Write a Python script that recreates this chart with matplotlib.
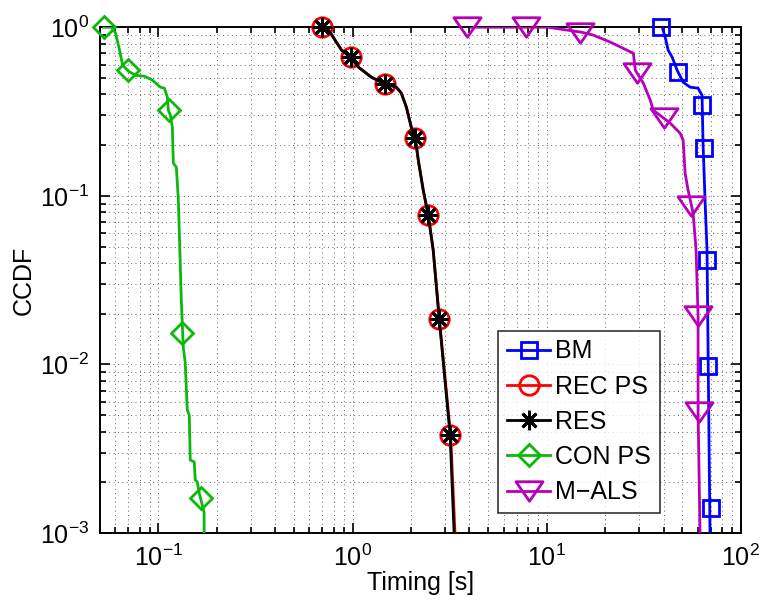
import matplotlib
matplotlib.use("Agg")
import matplotlib.pyplot as plt
from matplotlib.path import Path
from matplotlib.ticker import LogLocator, NullFormatter

plt.rcParams['font.family'] = ['Liberation Sans', 'DejaVu Sans']
plt.rcParams['mathtext.fontset'] = 'custom'
plt.rcParams['mathtext.rm'] = 'Liberation Sans'
plt.rcParams['mathtext.it'] = 'Liberation Sans:italic'

# ---- data ----
bm_x = [39.35, 40.76, 42.23, 44.27, 46.97, 50.42, 54.76, 60.2, 63.1, 63.85, 65.38, 66.93, 69.34]
bm_y = [1.0, 0.872, 0.731, 0.664, 0.556, 0.472, 0.441, 0.435, 0.395, 0.205, 0.0943, 0.0477, 0.001]
bm_mx = [38.9, 47.5, 63.1, 64.6, 66.9, 67.7, 70.2]
bm_my = [1.0, 0.541, 0.345, 0.192, 0.0416, 0.00977, 0.00141]

res_x = [0.694, 0.753, 0.878, 0.977, 1.073, 1.251, 1.476, 1.681, 1.784, 1.892, 2.007, 2.104,
         2.18, 2.312, 2.453, 2.602, 2.794, 3.18, 3.334]
res_y = [1.0, 0.960, 0.731, 0.664, 0.579, 0.505, 0.459, 0.441, 0.406, 0.336, 0.255, 0.220,
         0.163, 0.108, 0.0769, 0.0477, 0.0186, 0.00381, 0.001]
rec_x = [0.694, 0.753, 0.878, 0.977, 1.073, 1.251, 1.476, 1.681, 1.784, 1.892, 2.007, 2.104,
         2.18, 2.312, 2.453, 2.602, 2.80, 3.20, 3.37]
rec_y = res_y
res_mx = [0.694, 0.977, 1.476, 2.104, 2.453, 2.794, 3.18]
res_my = [1.0, 0.664, 0.459, 0.220, 0.0769, 0.0186, 0.00381]

con_x = [0.0522, 0.0574, 0.0602, 0.0631, 0.0654, 0.0702, 0.0762, 0.0848, 0.0932, 0.1024, 0.1074,
         0.1112, 0.1125, 0.1152, 0.118, 0.1194, 0.1237, 0.1267, 0.1312, 0.1343, 0.1375, 0.1408,
         0.1442, 0.1459, 0.153, 0.1548, 0.1585, 0.1623, 0.172, 0.172]
con_y = [1.0, 1.0, 0.921, 0.731, 0.595, 0.548, 0.519, 0.512, 0.485, 0.441, 0.435,
         0.385, 0.322, 0.301, 0.255, 0.156, 0.148, 0.0943, 0.0241, 0.01268, 0.01019, 0.00537,
         0.00501, 0.00271, 0.00264, 0.00206, 0.00201, 0.00173, 0.00132, 0.001]
con_mx = [0.0522, 0.0694, 0.114, 0.133, 0.166]
con_my = [1.0, 0.556, 0.322, 0.0153, 0.00161]

als_x = [4.076, 10.12, 15.12, 17.42, 21.29, 27.94, 28.6, 31.44, 34.15, 35.38, 43.24, 48.67,
         50.42, 51.63, 53.49, 56.74, 58.78, 60.2, 60.2, 61.6]
als_y = [1.0, 1.0, 0.934, 0.897, 0.815, 0.701, 0.556, 0.466, 0.369, 0.322, 0.270, 0.235,
         0.214, 0.136, 0.108, 0.0790, 0.0477, 0.0194, 0.00522, 0.001]
als_mx = [3.89, 7.8, 14.9, 29.3, 40.3, 55.4, 60.2, 60.9]
als_my = [1.0, 1.0, 0.93, 0.534, 0.289, 0.0869, 0.0194, 0.00522]

labels = ['BM', 'REC PS', 'RES', 'CON PS', 'M\u2212ALS']
x_label = 'Timing [s]'
y_label = 'CCDF'

# ---- styles ----
blue = (0, 0, 1)
red = (1, 0, 0)
black = (0, 0, 0)
green = (0.05, 0.72, 0.05)
magenta = (0.72, 0, 0.72)
lw = 2.0
tri = Path([(-1, 0.72), (1, 0.72), (0, -0.72), (-1, 0.72)],
           [Path.MOVETO, Path.LINETO, Path.LINETO, Path.CLOSEPOLY])

fig = plt.figure(figsize=(7.63, 6.05), dpi=100)
ax = fig.add_axes([0.131, 0.119, 0.840, 0.836])
ax.set_xscale('log')
ax.set_yscale('log')

def curve(x, y, mx, my, color, marker, ms, label, z):
    ax.plot(x, y, color=color, lw=lw, zorder=z)
    ax.plot(mx, my, ls='none', marker=marker, ms=ms, mfc='none', mec=color, mew=lw, zorder=z,
            clip_on=False)
    ax.plot([], [], color=color, lw=lw, marker=marker, ms=ms, mfc='none', mec=color, mew=lw,
            label=label)

curve(bm_x, bm_y, bm_mx, bm_my, blue, 's', 12, labels[0], 3)
curve(rec_x, rec_y, res_mx, res_my, red, 'o', 14, labels[1], 3)
curve(res_x, res_y, res_mx, res_my, black, (8, 2, 0), 14, labels[2], 4)
curve(con_x, con_y, con_mx, con_my, green, 'D', 11, labels[3], 3)
curve(als_x, als_y, als_mx, als_my, magenta, tri, 19.5, labels[4], 3)

ax.set_xlim(0.05, 100)
ax.set_ylim(1e-3, 1)
ax.xaxis.set_major_locator(LogLocator(base=10, numticks=10))
ax.yaxis.set_major_locator(LogLocator(base=10, numticks=10))
ax.xaxis.set_minor_locator(LogLocator(base=10, subs=range(2, 10), numticks=20))
ax.yaxis.set_minor_locator(LogLocator(base=10, subs=range(2, 10), numticks=20))
ax.xaxis.set_minor_formatter(NullFormatter())
ax.yaxis.set_minor_formatter(NullFormatter())

ax.grid(True, which='both', linestyle=(0, (1, 3.5)), linewidth=0.7, color='0.4')
ax.tick_params(which='both', direction='in', top=True, right=True, width=1.2, labelsize=18,
               colors='black')
ax.tick_params(which='major', length=7, pad=8)
ax.tick_params(which='minor', length=4)
for s in ax.spines.values():
    s.set_linewidth(1.4)

ax.set_xlabel(x_label, fontsize=18, labelpad=0)
ax.set_ylabel(y_label, fontsize=18, labelpad=3)

leg = ax.legend(loc='lower right', bbox_to_anchor=(0.874, 0.0395), fontsize=18, frameon=True,
                fancybox=False, edgecolor='black', handlelength=1.75, handletextpad=0.2,
                borderpad=0.35, labelspacing=0.45, borderaxespad=0)
leg.get_frame().set_linewidth(1.2)

fig.savefig('out.png', dpi=100)
